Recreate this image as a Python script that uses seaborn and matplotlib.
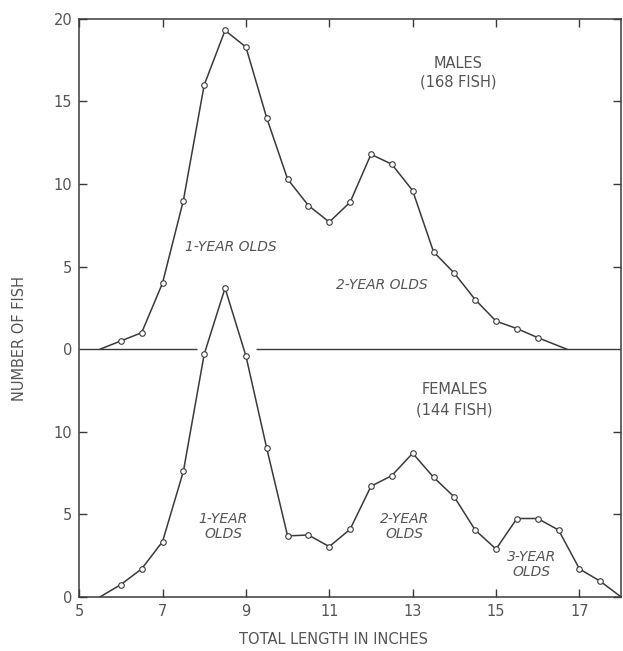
import numpy as np
import pandas as pd
import seaborn as sns
import matplotlib.pyplot as plt

# lengths (inches) and counts
male_len = [5.5, 6.0, 6.5, 7.0, 7.5, 8.0, 8.5, 9.0, 9.5, 10.0, 10.5, 11.0, 11.5,
            12.0, 12.5, 13.0, 13.5, 14.0, 14.5, 15.0, 15.5, 16.0, 16.7]
male_cnt = [0, 0.5, 1.0, 4.0, 9.0, 16.0, 19.3, 18.3, 14.0, 10.3, 8.7, 7.7, 8.9,
            11.8, 11.2, 9.6, 5.9, 4.6, 3.0, 1.7, 1.25, 0.7, 0]

female_len = [5.5, 6.0, 6.5, 7.0, 7.5, 8.0, 8.5, 9.0, 9.5, 10.0, 10.5, 11.0, 11.5,
              12.0, 12.5, 13.0, 13.5, 14.0, 14.5, 15.0, 15.5, 16.0, 16.5, 17.0,
              17.5, 18.0]
female_cnt = [0, 0.75, 1.7, 3.35, 7.6, 14.7, 18.7, 14.6, 9.0, 3.7, 3.75, 3.05, 4.1,
              6.7, 7.35, 8.7, 7.25, 6.05, 4.05, 2.9, 4.75, 4.75, 4.05, 1.7,
              0.95, 0]

x_ticks = [5, 7, 9, 11, 13, 15, 17]

males = pd.DataFrame({"length": male_len, "count": male_cnt})
females = pd.DataFrame({"length": female_len, "count": female_cnt})

sns.set_style("ticks")
plt.rcParams["font.family"] = ["DejaVu Sans"]
ink = "#3a3a3a"
txt = "#555555"

fig = plt.figure(figsize=(6.23, 6.51), dpi=100)
pos = [0.127, 0.083, 0.870, 0.888]

# female panel occupies the lower part, same scale as male panel
ax = fig.add_axes(pos)
axm = fig.add_axes(pos)
axm.patch.set_alpha(0)

line_kw = dict(color=ink, lw=1.1, marker="o", markersize=4, markerfacecolor="white",
               markeredgecolor=ink, markeredgewidth=0.8, markevery=slice(1, -1))
sns.lineplot(data=females, x="length", y="count", ax=ax, **line_kw)
sns.lineplot(data=males, x="length", y="count", ax=axm, **line_kw)

for a in (ax, axm):
    a.set_xlim(5, 18)
    a.set_xlabel("")
    a.set_ylabel("")

ax.set_ylim(0, 35)
axm.set_ylim(-15, 20)

# baseline of the male panel, broken where the female peak passes through
axm.hlines(0, 5, 7.82, color=ink, lw=1.0)
axm.hlines(0, 9.25, 18, color=ink, lw=1.0)

ax.set_xticks(x_ticks)
ax.set_xticklabels([str(t) for t in x_ticks], fontsize=10.5, color=txt)
ax.set_yticks([0, 5, 10])
ax.set_yticklabels(["0", "5", "10"], fontsize=10.5, color=txt)
ax.tick_params(direction="in", length=6, width=1, color=ink, top=True, right=True, pad=5)

axm.set_xticks([])
axm.set_yticks([0, 5, 10, 15, 20])
axm.set_yticklabels(["0", "5", "10", "15", "20"], fontsize=10.5, color=txt)
axm.tick_params(axis="y", direction="in", length=6, width=1, color=ink,
                left=True, right=True, pad=5)
axm.yaxis.get_major_ticks()[0].tick1line.set_visible(False)
axm.yaxis.get_major_ticks()[0].tick2line.set_visible(False)
for s in axm.spines.values():
    s.set_visible(False)
for s in ax.spines.values():
    s.set_color(ink)
    s.set_linewidth(1.1)

# annotations
axm.text(14.1, 17.3, "MALES", ha="center", va="center", fontsize=10.5, color=txt)
axm.text(14.1, 16.2, "(168 FISH)", ha="center", va="center", fontsize=10.5, color=txt)
axm.text(8.65, 6.2, "1-YEAR OLDS", ha="center", va="center", fontsize=10,
         style="italic", color=txt)
axm.text(12.25, 3.9, "2-YEAR OLDS", ha="center", va="center", fontsize=10,
         style="italic", color=txt)

ax.text(14.0, 12.55, "FEMALES", ha="center", va="center", fontsize=10.5, color=txt)
ax.text(14.0, 11.35, "(144 FISH)", ha="center", va="center", fontsize=10.5, color=txt)
ax.text(8.45, 4.25, "1-YEAR\nOLDS", ha="center", va="center", fontsize=10,
        style="italic", color=txt, linespacing=1.1)
ax.text(12.8, 4.25, "2-YEAR\nOLDS", ha="center", va="center", fontsize=10,
        style="italic", color=txt, linespacing=1.1)
ax.text(15.85, 1.95, "3-YEAR\nOLDS", ha="center", va="center", fontsize=10,
        style="italic", color=txt, linespacing=1.1)

fig.text(0.032, 0.48, "NUMBER OF FISH", rotation=90, ha="center", va="center",
         fontsize=10.5, color=txt)
fig.text(0.535, 0.017, "TOTAL LENGTH IN INCHES", ha="center", va="center",
         fontsize=10.5, color=txt)

fig.savefig("out.png", dpi=100)
